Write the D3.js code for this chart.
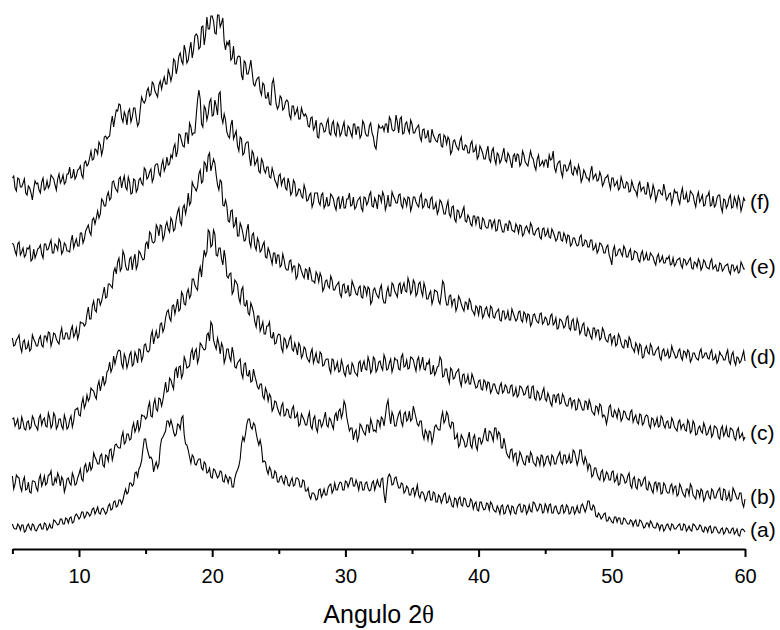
<!DOCTYPE html>
<html lang="en">
<head>
<meta charset="utf-8">
<title>Angulo 2θ - difractogramas</title>
<script src="https://d3js.org/d3.v7.min.js"></script>
<style>
body { margin: 0; background: #fff; }
svg { display: block; background: #fff; }
.trace { fill: none; stroke: #000; stroke-width: 1.1px; stroke-linejoin: miter; stroke-miterlimit: 6; }
.axis text { font-family: "Liberation Sans", Arial, sans-serif; font-size: 20px; fill: #000; }
.axis path, .axis line { stroke: #000; stroke-width: 2px; }
.lbl { font-family: "Liberation Sans", Arial, sans-serif; font-size: 21px; fill: #000; }
.xtitle { font-family: "Liberation Sans", Arial, sans-serif; font-size: 25px; fill: #000; }
</style>
</head>
<body>
<script>
// scan: 5 to 60 deg, 0.1 deg step
var scanStart = 5, scanStep = 0.1, scanCount = 551;
var theta = d3.range(scanCount).map(function(i) { return +(scanStart + i * scanStep).toFixed(1); });

var labels = ["(a)", "(b)", "(c)", "(d)", "(e)", "(f)"];
var majorTicks = [10, 20, 30, 40, 50, 60];
var minorTicks = [5, 15, 25, 35, 45, 55];

// intensities (a.u., stacked as plotted), one row = 2 deg
var traceA = [
25,21,20,20,25,23,19,24,24,17,18,23,25,21,19,25,24,19,18,21,
24,25,20,20,26,25,19,21,25,21,21,29,28,26,24,25,30,30,25,25,
31,30,26,31,32,26,27,33,35,33,30,32,37,37,31,33,37,36,33,35,
40,41,35,38,42,36,35,40,41,38,35,37,43,45,39,40,47,48,42,43,
49,49,45,49,55,60,55,57,66,66,63,65,76,77,72,80,83,88,100,110,
110,101,96,91,92,89,77,83,87,81,85,102,110,112,115,118,128,128,123,129,
124,117,113,115,125,124,120,131,133,114,105,104,99,92,86,94,92,85,84,88,
90,90,81,79,87,85,76,77,81,72,71,80,79,75,71,73,78,77,68,67,
74,71,66,72,71,62,62,71,76,79,83,90,105,112,108,115,125,130,130,122,
120,126,124,116,109,104,109,102,87,88,87,79,75,82,79,71,71,78,76,67,
67,72,73,68,65,73,71,64,63,68,71,63,64,71,71,69,62,62,69,68,
58,58,61,53,50,56,56,54,49,50,59,60,52,55,60,54,54,61,64,65,
56,59,66,59,59,64,67,66,59,59,68,67,62,66,71,71,63,63,69,65,
59,67,67,59,59,66,67,61,58,59,66,68,59,64,69,64,62,70,71,55,
46,60,72,75,72,64,65,71,72,66,61,61,66,65,56,58,63,61,54,54,
60,61,53,58,64,54,51,57,57,54,48,51,57,58,49,49,57,56,47,47,
54,52,46,50,55,56,46,47,53,49,43,42,51,50,43,50,52,44,43,51,
50,44,42,43,50,48,40,45,47,39,38,47,47,42,39,40,46,45,39,47,
45,40,38,37,43,40,35,43,44,35,36,42,44,39,35,43,42,36,35,41,
44,45,37,37,44,43,35,38,44,38,37,47,46,42,38,40,45,44,36,37,
45,42,37,44,45,36,36,42,43,38,35,36,43,44,36,38,44,42,35,36,
42,42,35,38,43,37,36,43,45,41,37,41,48,48,40,39,44,42,33,32,
36,34,30,32,35,36,28,28,32,30,27,26,32,32,27,31,31,25,25,31,
30,27,25,25,29,28,23,27,29,23,23,29,28,25,21,22,26,26,22,28,
26,22,21,21,26,24,19,24,24,18,20,24,25,21,19,25,24,20,20,22,
24,25,19,19,25,24,18,20,23,19,18,25,24,22,19,20,24,23,18,17,
22,21,17,22,23,16,17,22,22,19,16,16,20,21,15,17,21,20,16,16,
20,21,15,17,20,14,13,19,20,19,17];

var traceB = [
73,60,65,74,72,71,62,58,68,72,59,60,67,57,56,68,68,67,61,58,
70,74,63,67,73,64,66,74,74,78,64,64,71,67,76,72,63,72,69,57,
62,70,71,66,64,76,72,64,65,71,75,80,70,68,82,85,77,79,87,79,
82,96,92,89,85,85,93,95,84,82,94,93,88,99,100,89,95,104,105,102,
101,101,112,117,105,107,115,115,109,110,121,126,117,121,129,118,122,134,133,133,
130,132,142,147,133,132,145,150,140,138,151,150,143,149,158,167,157,158,171,169,
164,160,178,181,171,182,183,171,175,192,188,181,182,183,196,200,189,197,200,186,
191,206,204,201,199,200,214,216,208,227,224,209,204,200,211,205,195,206,202,186,
191,200,200,192,188,202,195,182,181,186,188,190,176,171,185,186,174,173,179,167,
168,180,173,168,162,160,165,165,153,150,161,157,148,155,152,138,141,148,147,141,
137,134,143,146,133,134,140,139,132,131,140,143,131,132,136,123,125,135,132,129,
124,124,132,137,123,120,130,133,121,117,129,129,122,125,131,137,124,122,131,129,
124,120,133,136,128,138,140,131,136,148,144,132,125,118,121,121,109,116,119,108,
112,125,123,119,116,114,124,124,116,130,125,118,119,117,129,128,122,132,130,123,
133,144,149,135,125,137,133,123,123,130,135,138,127,123,135,137,128,130,138,128,
130,143,137,131,125,123,128,128,115,110,119,116,109,118,117,106,112,122,124,121,
119,119,131,137,126,129,137,134,124,121,127,126,110,111,115,102,105,114,111,108,
102,103,111,117,104,101,111,114,103,99,111,111,105,108,115,121,109,108,118,117,
113,108,121,121,111,117,115,101,101,111,104,96,93,91,99,100,89,95,96,84,
88,97,94,89,85,84,93,93,86,97,94,87,85,83,92,90,84,94,93,83,
86,92,93,87,84,94,92,85,85,91,94,97,87,85,94,94,86,88,94,86,
87,99,97,91,84,89,99,99,89,85,92,88,79,85,83,72,74,81,81,75,
71,69,77,79,68,71,77,75,69,69,77,78,67,69,74,64,65,75,74,71,
66,67,73,76,64,61,70,72,62,60,70,69,63,65,70,72,60,59,67,64,
59,56,66,67,59,66,66,55,56,66,64,58,56,56,63,65,56,62,63,53,
55,65,62,57,54,52,60,60,54,65,62,54,52,50,59,58,52,60,58,48,
51,57,58,52,50,60,58,51,51,56,59,61,50,49,60,59,49,51,57,48,
49,61,58,54,50,50,56,56,46,42,50];

var traceC = [
130,131,123,126,130,120,121,132,127,120,119,127,128,120,122,133,130,124,122,119,
131,134,124,129,131,123,122,136,131,121,124,136,133,120,123,130,130,123,120,134,
129,120,122,129,133,122,128,139,140,141,134,133,145,151,141,145,154,148,151,161,
159,158,153,150,163,168,158,165,173,164,167,177,179,187,177,181,193,185,191,197,
199,198,185,181,195,191,181,186,194,197,183,185,197,193,186,200,199,188,192,204,
205,198,197,199,213,218,205,212,218,211,212,225,226,217,221,231,237,239,231,228,
243,244,235,242,250,238,240,257,254,245,244,256,260,251,254,270,270,264,261,259,
276,282,272,287,299,293,297,319,317,302,304,319,315,294,293,301,301,290,284,299,
290,273,271,275,276,255,258,269,267,264,251,246,259,262,244,243,249,236,234,246,
242,237,227,222,233,233,218,222,227,215,215,223,223,227,212,211,217,205,206,213,
215,214,201,197,211,209,201,204,210,213,200,198,206,201,194,206,203,191,194,202,
200,192,189,187,196,200,186,191,196,187,186,197,195,183,184,189,190,190,180,176,
190,189,179,182,187,177,178,189,184,176,173,182,184,175,175,186,183,177,175,173,
186,188,177,184,188,180,179,192,187,176,179,192,190,177,180,187,188,182,179,194,
190,179,180,186,190,177,182,191,189,189,180,179,192,195,182,183,189,180,181,192,
191,189,183,178,189,192,180,185,192,180,179,186,185,189,175,176,184,174,177,182,
183,192,189,172,173,180,180,171,166,181,179,170,171,176,178,180,168,163,174,175,
166,168,174,165,165,175,171,166,161,162,168,169,160,159,169,167,160,167,166,156,
159,165,165,160,156,155,163,166,156,158,164,162,156,156,163,164,153,155,161,152,
154,163,162,159,154,155,161,163,151,151,162,163,151,149,158,156,149,151,157,161,
150,148,156,152,146,143,154,154,146,154,155,145,146,155,152,146,143,143,150,151,
142,148,149,139,140,150,148,143,139,139,148,147,139,149,145,138,136,134,143,142,
136,145,143,132,134,132,125,132,142,144,133,132,139,136,131,140,137,128,131,138,
137,132,130,129,137,139,127,131,134,127,125,135,134,124,126,132,134,133,124,121,
131,130,123,126,131,122,123,133,131,124,121,127,128,121,121,131,128,122,120,118,
127,129,120,124,125,119,118,129,126,116,118,128,125,114,115,121,123,118,116,126,
122,114,115,120,123,112,115,123,122,120,112,110,120,123,113,116,122,113,112,121,
120,118,111,109,118,121,111,113,116,109,112];

var traceD = [
211,203,204,209,211,214,202,197,207,209,200,201,207,198,200,214,210,207,203,203,
210,213,204,202,213,213,208,217,216,203,208,216,215,210,207,205,215,221,210,210,
216,216,210,210,219,223,212,215,221,210,215,227,226,226,223,225,235,242,230,230,
243,248,239,237,250,250,244,248,255,262,251,252,265,265,263,261,277,281,275,287,
291,278,281,298,294,283,279,279,290,292,279,289,295,280,284,298,296,292,289,290,
305,307,300,317,315,307,306,308,324,321,313,324,323,309,313,323,327,320,317,331,
328,318,320,330,337,341,327,324,341,344,335,342,356,344,347,367,363,361,358,362,
375,379,366,368,387,385,377,393,396,378,384,390,386,374,364,359,369,367,344,343,
349,343,328,327,338,339,322,324,332,313,313,326,322,316,308,309,319,325,307,302,
314,316,303,299,311,307,297,299,304,307,292,291,301,297,291,285,296,296,285,294,
294,282,284,295,289,281,279,279,288,289,278,283,283,270,273,285,283,278,274,271,
280,279,269,282,276,268,268,266,277,274,267,276,272,258,261,268,269,263,261,273,
269,259,259,263,265,267,255,252,264,265,256,257,264,253,254,268,264,260,255,254,
261,263,252,251,263,261,254,262,260,245,248,259,261,256,253,251,260,264,251,246,
246,257,262,253,253,266,264,258,255,252,264,266,255,262,266,258,257,271,266,255,
258,269,266,253,256,265,267,258,253,266,261,250,250,255,258,245,250,259,258,257,
248,245,255,268,265,252,244,244,253,254,243,249,250,238,242,253,250,245,241,238,
247,246,239,250,247,239,237,234,243,241,234,243,242,231,234,240,242,235,232,243,
241,232,231,236,238,240,229,228,238,238,230,232,238,229,229,240,236,232,228,230,
237,238,229,227,237,235,228,235,234,223,226,234,235,230,227,226,235,236,225,227,
232,230,224,225,233,235,224,226,231,220,221,230,229,226,221,223,231,233,221,219,
228,230,219,219,230,225,215,218,224,226,214,213,221,218,213,210,221,221,213,219,
219,209,211,221,218,211,208,207,214,215,205,211,213,203,205,215,212,206,202,201,
209,208,201,212,209,202,200,197,206,203,196,205,203,191,192,200,203,197,195,205,
202,194,194,198,200,202,192,189,198,200,193,194,199,191,193,203,198,195,191,192,
198,200,192,189,198,197,192,199,197,187,190,196,196,192,190,189,197,200,191,192,
196,196,191,190,196,199,189,190,194,186,189,197,194,193,189,189,195,199,188,185,
194,197,188,184,192,191,186,188,193,198,188];

var traceE = [
306,304,298,294,305,307,294,297,301,292,294,301,300,303,288,290,300,291,295,300,
301,304,295,291,305,305,299,300,305,309,296,296,305,303,299,310,307,295,298,306,
304,298,298,297,308,314,301,306,310,303,303,316,316,306,310,318,321,324,317,314,
329,331,325,331,338,331,335,350,348,343,343,353,357,349,351,367,368,362,359,357,
370,372,361,368,373,362,359,372,367,355,356,370,369,357,360,369,371,366,364,381,
379,370,372,377,380,367,371,383,385,385,376,373,384,389,378,382,392,384,385,394,
391,401,405,392,398,415,414,408,403,402,416,416,405,426,422,414,416,416,433,449,
459,450,425,422,443,440,429,435,447,450,433,434,449,443,434,455,457,432,426,435,
429,417,413,411,424,429,410,414,418,403,398,412,410,394,396,405,407,407,392,383,
398,395,384,387,391,378,376,390,387,379,376,382,382,372,371,381,376,369,366,362,
373,375,364,369,371,361,359,371,365,354,357,369,366,353,355,360,359,353,351,364,
359,348,349,354,356,342,346,356,356,356,347,344,354,356,341,344,352,343,344,355,
353,350,343,339,350,352,340,346,353,341,341,350,350,356,343,344,352,340,342,348,
350,352,341,338,352,351,344,347,354,357,343,342,351,347,340,354,353,347,357,353,
339,344,354,343,343,357,353,350,346,346,354,355,344,341,351,349,343,352,351,338,
343,352,352,347,344,342,352,355,341,343,350,349,342,341,350,352,340,341,346,335,
339,349,347,342,335,335,343,348,335,332,342,343,330,327,339,338,331,333,338,342,
328,327,334,331,325,323,333,333,325,332,332,321,320,331,329,323,321,321,329,329,
321,326,329,318,319,329,329,322,317,317,325,325,318,328,326,319,318,317,325,322,
316,324,323,313,315,321,323,319,316,326,323,315,314,318,320,321,312,310,320,321,
313,315,320,312,311,320,317,313,308,310,317,317,309,308,316,313,307,314,313,303,
305,311,311,306,303,304,312,314,303,304,309,308,302,302,309,309,299,301,305,296,
299,306,305,302,296,296,302,304,294,290,284,299,303,293,294,299,300,296,293,303,
300,292,292,297,300,289,290,298,297,296,289,287,295,298,289,291,296,289,289,296,
294,292,287,284,292,295,287,289,293,286,286,291,290,293,284,285,291,283,285,289,
290,291,284,281,290,289,284,286,289,291,281,280,287,286,282,290,287,279,282,289,
287,282,281,280,287,290,280,282,284,278,278,286,285,278,280,283,284,285,278,275,
284,284,278,280,283,276,277,287,284,280,280];

var traceF = [
371,373,361,358,371,370,362,362,366,370,356,354,363,361,356,349,360,368,365,366,
359,356,367,371,359,361,368,361,364,374,372,370,364,359,370,375,366,369,374,365,
367,375,375,382,371,372,380,370,373,379,380,383,374,371,386,388,383,385,391,398,
389,390,400,399,395,407,404,394,400,412,413,410,412,413,425,433,422,431,439,438,
445,444,431,427,437,433,424,437,440,427,432,441,441,431,423,426,440,452,448,446,
449,458,461,453,455,467,465,458,455,452,464,468,460,467,472,465,465,479,475,468,
474,490,488,475,482,493,496,488,485,504,498,486,489,499,507,491,499,513,515,513,
500,502,522,523,504,514,532,520,520,533,533,528,516,515,534,534,522,526,531,507,
499,507,504,509,489,491,503,485,485,492,493,492,474,469,488,486,475,475,481,489,
477,465,463,468,471,472,458,454,466,464,451,451,457,445,444,466,470,458,445,440,
443,453,451,439,441,447,449,447,434,430,443,443,434,437,441,430,430,441,436,433,
435,432,423,422,431,432,419,422,429,412,411,425,426,423,417,418,426,430,416,414,
425,428,416,413,426,423,413,416,422,427,414,413,423,421,416,412,425,425,414,422,
422,411,414,428,425,416,413,413,423,426,416,412,403,400,413,424,421,421,423,418,
425,425,416,432,429,420,418,419,434,427,416,430,432,415,416,425,427,420,416,429,
425,416,416,420,422,424,412,408,419,420,411,412,419,407,407,420,414,411,408,407,
414,415,403,402,414,412,405,412,409,395,398,408,409,404,401,399,408,412,400,399,
404,403,396,396,405,408,397,398,403,390,393,403,400,396,390,390,397,403,390,387,
398,401,390,385,396,394,386,389,395,401,389,387,396,393,387,381,393,395,387,395,
394,383,386,398,394,387,385,383,391,398,392,390,383,379,390,394,383,385,388,383,
389,389,381,394,389,390,398,381,377,384,387,388,377,372,384,384,378,379,384,388,
376,374,382,380,375,384,379,367,371,379,376,371,371,368,377,383,370,373,375,368,
369,377,373,363,366,371,372,374,366,360,371,371,363,365,368,359,361,372,367,361,
361,367,366,357,358,368,363,359,358,353,364,367,358,361,362,355,355,367,360,351,
355,364,359,348,353,359,359,355,354,365,358,349,351,355,356,345,351,359,356,357,
349,345,355,361,350,350,356,347,348,358,356,354,347,342,352,357,347,350,354,343,
344,353,353,357,343,344,353,342,344,351,354,354,342,337,350,349,341,344,351,354,
341,342,352,348,342,353,349,338,343,351,348];

var traces = [traceA, traceB, traceC, traceD, traceE, traceF];

var width = 780, height = 630;
var plotLeft = 12.4, plotRight = 745, plotBottom = 549, plotTop = -1;

var svg = d3.select("body").append("svg").attr("width", width).attr("height", height);

var x = d3.scaleLinear().domain([5, 60]).range([plotLeft, plotRight]);
var y = d3.scaleLinear().domain([0, 550]).range([plotBottom, plotTop]);

var line = d3.line()
    .x(function(d, i) { return x(theta[i]); })
    .y(function(d) { return y(d); });

svg.append("g")
  .selectAll("path")
  .data(traces)
  .enter().append("path")
    .attr("class", "trace")
    .attr("d", line);

// sample labels at the right end of each trace
svg.append("g")
  .selectAll("text")
  .data(traces)
  .enter().append("text")
    .attr("class", "lbl")
    .attr("x", x(60) + 5)
    .attr("y", function(d) { return y(d3.mean(d.slice(-15))); })
    .attr("dy", "0.3em")
    .text(function(d, i) { return labels[i]; });

// x axis
svg.append("g")
    .attr("class", "axis")
    .attr("transform", "translate(0," + plotBottom + ")")
    .call(d3.axisBottom(x).tickValues(majorTicks).tickSize(8).tickSizeOuter(0).tickPadding(12).tickFormat(d3.format("d")));

svg.append("g")
    .attr("class", "axis")
    .attr("transform", "translate(0," + plotBottom + ")")
    .call(d3.axisBottom(x).tickValues(minorTicks).tickSize(5).tickFormat(""))
    .select(".domain").remove();

var title = svg.append("text")
    .attr("class", "xtitle")
    .attr("x", (plotLeft + plotRight) / 2)
    .attr("y", 623)
    .attr("text-anchor", "middle")
    .text("Angulo 2");
title.append("tspan")
    .style("font-family", "'Liberation Serif', 'DejaVu Serif', serif")
    .text("θ");
</script>
</body>
</html>
